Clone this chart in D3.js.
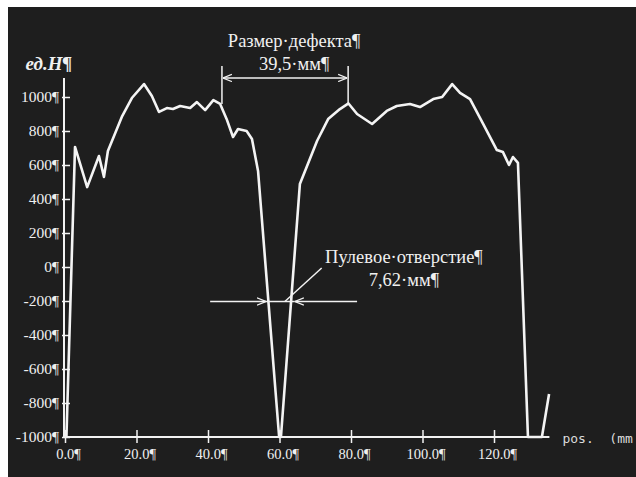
<!DOCTYPE html>
<html>
<head>
<meta charset="utf-8">
<script src="https://cdn.jsdelivr.net/npm/d3@7"></script>
<style>
  body { margin: 0; background: #fff; }
  svg { display: block; }
  .lbl { font-family: "Liberation Serif", "Times New Roman", serif; fill: #f0f0f0; }
</style>
</head>
<body>
<div id="chart"></div>
<script>
// profile of the signal, position (mm) and value (ед.H)
var pos = [0.4, 2.8, 6.2, 9.5, 10.9, 12.0, 16.0, 18.7, 22.1, 24.3, 26.3, 28.5, 30.2, 32.2, 35.0, 36.9,
  39.2, 41.5, 43.4, 45.2, 47.0, 48.4, 50.8, 52.3, 54.0, 59.9, 60.4, 65.7, 70.5, 73.6, 76.9, 79.3,
  81.7, 85.9, 90.0, 92.8, 96.5, 99.3, 103.0, 105.5, 108.3, 110.5, 113.3, 117.0, 120.8, 122.5,
  124.2, 125.3, 126.7, 129.5, 133.4, 135.4]
var val = [-1000, 706, 470, 653, 530, 682, 888, 994, 1076, 1006, 912, 935, 929, 947, 935, 970,
  923, 982, 959, 871, 765, 812, 800, 753, 565, -1000, -1000, 488, 741, 870, 929, 962,
  900, 841, 918, 947, 959, 941, 988, 1000, 1076, 1024, 988, 841, 688, 676,
  600, 647, 612, -1000, -1000, -747]

var yTicks = [1000, 800, 600, 400, 200, 0, -200, -400, -600, -800, -1000]
var xTicks = [0, 20, 40, 60, 80, 100, 120]
var yTickLabels = ["1000¶", "800¶", "600¶", "400¶", "200¶", "0¶", "-200¶", "-400¶", "-600¶", "-800¶", "-1000¶"]
var xTickLabels = ["0.0¶", "20.0¶", "40.0¶", "60.0¶", "80.0¶", "100.0¶", "120.0¶"]

// annotations (data units)
var defectEdges = [43.9, 79.2]
var defectLevel = 1112
var holeEdges = [56.2, 64.3]
var holeLine = [40.6, 81.7]
var holeLevel = -203
var leader = [[61.5, -203], [71.8, -6]]

var W = 636, H = 477

var svg = d3.select("#chart").append("svg")
  .attr("width", W).attr("height", H)

svg.append("rect").attr("x", 8).attr("y", 7)
  .attr("width", W - 8).attr("height", H - 7).attr("fill", "#1e1e1e")

var defs = svg.append("defs")
defs.append("marker").attr("id", "arr")
  .attr("viewBox", "0 0 10 10").attr("refX", 10).attr("refY", 5)
  .attr("markerWidth", 9).attr("markerHeight", 9).attr("markerUnits", "userSpaceOnUse")
  .attr("orient", "auto-start-reverse")
  .append("path").attr("d", "M0,1 L10,5 L0,9").attr("fill", "none")
  .attr("stroke", "#f2f2f2").attr("stroke-width", 1.4)

var x = d3.scaleLinear().domain([0, 120]).range([65, 494])
var y = d3.scaleLinear().domain([-1000, 1000]).range([437, 97])

// axes
var gx = svg.append("g").attr("transform", "translate(0," + y(-1000) + ")")
  .call(d3.axisBottom(x).tickValues(xTicks).tickSizeOuter(0)
    .tickFormat(function(d, i) { return xTickLabels[i] }))
gx.select(".domain").remove()
gx.selectAll(".tick line").attr("y1", -7).attr("y2", 6).attr("stroke", "#f2f2f2").attr("stroke-width", 1.5)
gx.selectAll(".tick text").attr("class", "lbl").attr("y", 12).attr("dy", "0.71em")
  .attr("font-size", 14.5).attr("dx", 3)

var gy = svg.append("g").attr("transform", "translate(" + (x(0) - 1) + ",0)")
  .call(d3.axisLeft(y).tickValues(yTicks).tickSizeOuter(0)
    .tickFormat(function(d, i) { return yTickLabels[i] }))
gy.select(".domain").remove()
gy.selectAll(".tick line").attr("x1", -2).attr("x2", 6).attr("stroke", "#f2f2f2").attr("stroke-width", 1.5)
gy.selectAll(".tick text").attr("class", "lbl").attr("x", -5).attr("font-size", 15.5)

svg.append("line")
  .attr("x1", x(0) - 1).attr("x2", x(135.5)).attr("y1", y(-1000)).attr("y2", y(-1000))
  .attr("stroke", "#f2f2f2").attr("stroke-width", 2)
svg.append("line")
  .attr("x1", x(0) - 1).attr("x2", x(0) - 1).attr("y1", y(-1000)).attr("y2", y(1112))
  .attr("stroke", "#f2f2f2").attr("stroke-width", 2)

svg.append("text").attr("class", "lbl")
  .attr("x", x(0) + 7).attr("y", 70).attr("text-anchor", "end")
  .attr("font-size", 19).attr("font-style", "italic").attr("font-weight", "bold")
  .text("ед.H¶")

svg.append("text")
  .attr("x", x(135.5) + 13).attr("y", y(-1000) + 6)
  .attr("font-family", "DejaVu Sans Mono, monospace").attr("font-size", 13)
  .attr("fill", "#dcdcdc").attr("xml:space", "preserve")
  .text("pos.  (mm")

// curve
var line = d3.line()
  .x(function(d) { return x(d[0]) })
  .y(function(d) { return y(d[1]) })

svg.append("path")
  .datum(d3.zip(pos, val))
  .attr("d", line)
  .attr("fill", "none")
  .attr("stroke", "#f4f4f4")
  .attr("stroke-width", 2.6)
  .attr("stroke-linejoin", "round")

// defect size annotation
var ann = svg.append("g").attr("stroke", "#f2f2f2").attr("stroke-width", 1.5)
defectEdges.forEach(function(e) {
  ann.append("line").attr("x1", x(e)).attr("x2", x(e))
    .attr("y1", y(1182)).attr("y2", y(959))
})
ann.append("line")
  .attr("x1", x(defectEdges[0]) + 1).attr("x2", x(defectEdges[1]) - 1)
  .attr("y1", y(defectLevel)).attr("y2", y(defectLevel))
  .attr("marker-start", "url(#arr)").attr("marker-end", "url(#arr)")

svg.append("text").attr("class", "lbl").attr("text-anchor", "middle")
  .attr("x", x(64.1)).attr("y", y(1292)).attr("font-size", 18.5)
  .text("Размер·дефекта¶")
svg.append("text").attr("class", "lbl").attr("text-anchor", "middle")
  .attr("x", x(64.1)).attr("y", y(1160)).attr("font-size", 18.5)
  .text("39,5·мм¶")

// bullet hole annotation
ann.append("line")
  .attr("x1", x(holeLine[0])).attr("x2", x(holeEdges[0]))
  .attr("y1", y(holeLevel)).attr("y2", y(holeLevel))
  .attr("marker-end", "url(#arr)")
ann.append("line")
  .attr("x1", x(holeEdges[0])).attr("x2", x(holeEdges[1]))
  .attr("y1", y(holeLevel)).attr("y2", y(holeLevel))
ann.append("line")
  .attr("x1", x(holeLine[1])).attr("x2", x(holeEdges[1]))
  .attr("y1", y(holeLevel)).attr("y2", y(holeLevel))
  .attr("marker-end", "url(#arr)")
ann.append("line")
  .attr("x1", x(leader[0][0])).attr("y1", y(leader[0][1]))
  .attr("x2", x(leader[1][0])).attr("y2", y(leader[1][1]))

svg.append("text").attr("class", "lbl").attr("text-anchor", "middle")
  .attr("x", x(94.8)).attr("y", y(24)).attr("font-size", 18.5)
  .text("Пулевое·отверстие¶")
svg.append("text").attr("class", "lbl").attr("text-anchor", "middle")
  .attr("x", x(94.8)).attr("y", y(-112)).attr("font-size", 18.5)
  .text("7,62·мм¶")
</script>
</body>
</html>
